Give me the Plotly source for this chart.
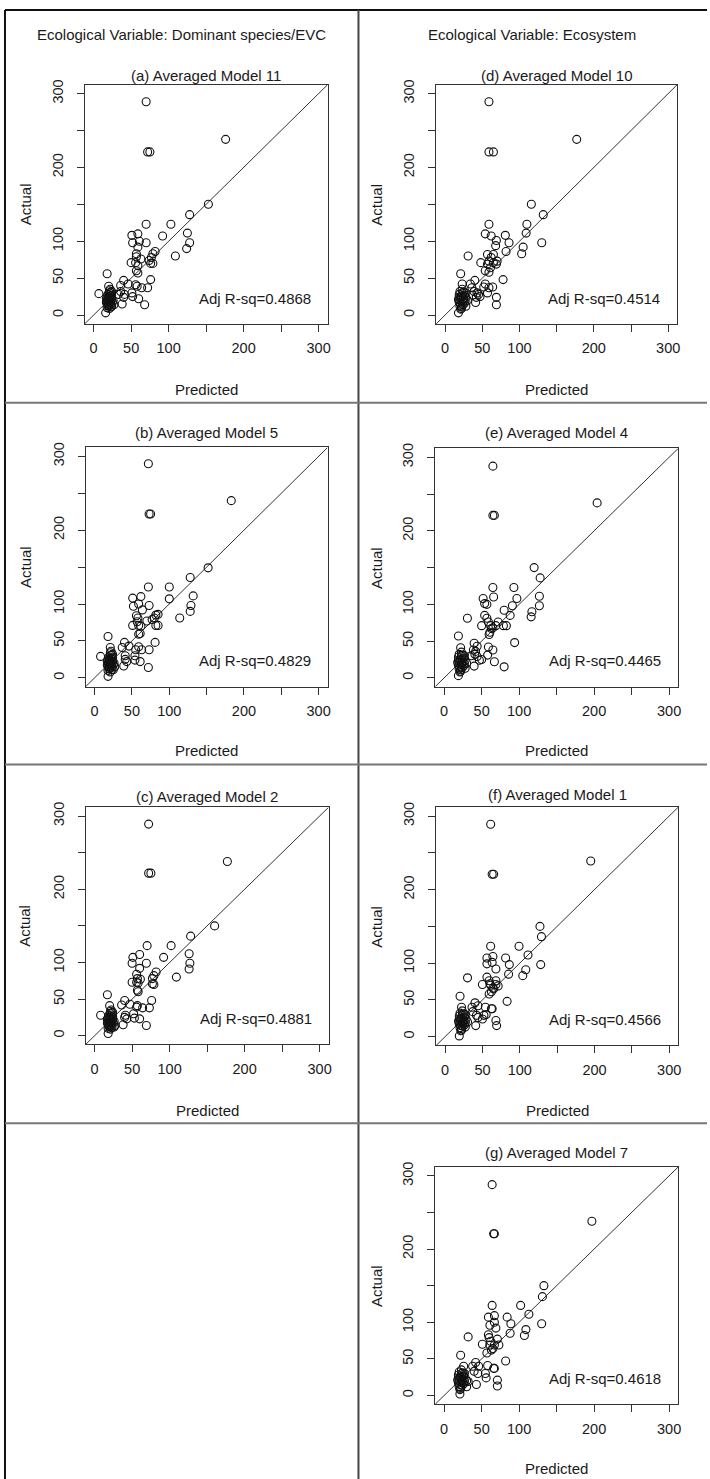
import plotly.graph_objects as go

# ---------------- DATA ----------------
HEADERS = ["Ecological Variable: Dominant species/EVC", "Ecological Variable: Ecosystem"]
TITLES = ["(a) Averaged Model 11", "(b) Averaged Model 5", "(c) Averaged Model 2",
          "(d) Averaged Model 10", "(e) Averaged Model 4", "(f) Averaged Model 1",
          "(g) Averaged Model 7"]
ADJ_RSQ = ["0.4868", "0.4829", "0.4881", "0.4514", "0.4465", "0.4566", "0.4618"]
TICK_VALS = [0, 50, 100, 150, 200, 250, 300]
TICK_TEXT = ["0", "50", "100", "", "200", "", "300"]
AXIS_RANGE = [-12, 312]

# (predicted, actual) pairs per panel
points_a = [(70, 289), (176, 238), (72, 221), (75, 221), (153, 150), (128, 136), (103, 123), (70, 123),
            (125, 111), (92, 107), (51, 108), (59, 110), (52, 98), (61, 100), (70, 98), (128, 98),
            (124, 90), (109, 80), (57, 83), (57, 79), (59, 92), (63, 76), (50, 71), (56, 71), (59, 67),
            (57, 60), (59, 57), (77, 78), (79, 83), (82, 86), (76, 70), (79, 70), (74, 74), (18, 56),
            (20, 39), (40, 47), (46, 42), (36, 40), (56, 41), (58, 39), (64, 37), (72, 37), (76, 48),
            (51, 30), (52, 25), (60, 22), (68, 14), (36, 32), (38, 15), (40, 24), (41, 28), (7, 29),
            (16, 3), (24, 12), (33, 28), (17, 22), (18, 18), (19, 15), (20, 25), (21, 20), (22, 17),
            (19, 28), (20, 12), (21, 30), (18, 10), (22, 23), (23, 19), (24, 27), (20, 16), (19, 21),
            (22, 14), (23, 31), (21, 33), (18, 25), (20, 19), (24, 22), (25, 17), (22, 26), (19, 13),
            (21, 9), (23, 11), (17, 17), (20, 23), (24, 32), (26, 20), (27, 14), (22, 35)]

points_b = [(72, 290), (183, 240), (73, 222), (75, 222), (152, 149), (128, 136), (100, 123), (72, 123),
            (132, 111), (100, 107), (51, 108), (62, 110), (52, 97), (59, 100), (73, 98), (129, 98),
            (128, 90), (114, 81), (64, 92), (56, 84), (58, 81), (57, 76), (82, 85), (85, 86), (80, 81),
            (51, 71), (59, 71), (62, 70), (59, 59), (61, 60), (70, 77), (82, 71), (85, 71), (77, 79),
            (18, 56), (21, 41), (40, 48), (37, 41), (46, 43), (59, 42), (55, 38), (63, 38), (73, 38),
            (81, 48), (54, 30), (54, 24), (61, 22), (72, 14), (39, 16), (41, 25), (41, 30), (43, 22),
            (8, 29), (18, 2), (25, 11), (17, 22), (18, 18), (19, 15), (20, 25), (21, 20), (22, 17),
            (19, 28), (20, 12), (21, 30), (18, 10), (22, 23), (23, 19), (24, 27), (20, 16), (19, 21),
            (22, 14), (23, 31), (21, 34), (18, 25), (20, 19), (24, 22), (25, 17), (22, 26), (19, 13),
            (21, 8), (23, 11), (17, 17), (20, 23), (24, 32), (26, 20), (27, 15), (22, 36)]

points_c = [(72, 289), (177, 238), (72, 222), (75, 222), (160, 150), (128, 136), (102, 123), (70, 123),
            (126, 112), (92, 107), (51, 107), (60, 111), (50, 99), (69, 99), (127, 99), (126, 91),
            (109, 80), (60, 92), (56, 84), (57, 78), (56, 73), (82, 87), (79, 82), (77, 78), (50, 73),
            (58, 72), (61, 77), (58, 60), (57, 62), (77, 71), (79, 70), (17, 56), (20, 41), (40, 48),
            (36, 42), (47, 43), (56, 39), (57, 41), (64, 38), (73, 38), (76, 48), (52, 30), (53, 24),
            (60, 23), (69, 14), (38, 15), (40, 25), (41, 28), (43, 23), (8, 28), (18, 3), (26, 12),
            (17, 22), (18, 18), (19, 15), (20, 25), (21, 20), (22, 17), (19, 28), (20, 12), (21, 30),
            (18, 10), (22, 23), (23, 19), (24, 27), (20, 16), (19, 21), (22, 14), (23, 31), (21, 33),
            (18, 25), (20, 19), (24, 22), (25, 17), (22, 26), (19, 13), (21, 9), (23, 11), (17, 17),
            (20, 23), (24, 32), (26, 20), (27, 14), (22, 35)]

points_d = [(59, 289), (177, 238), (59, 221), (65, 221), (116, 150), (132, 136), (110, 123), (59, 123),
            (109, 111), (81, 108), (54, 110), (62, 107), (86, 98), (130, 98), (69, 101), (68, 94),
            (105, 92), (103, 83), (82, 86), (31, 80), (48, 71), (57, 69), (59, 73), (62, 78), (65, 71),
            (69, 69), (70, 73), (54, 60), (59, 58), (61, 64), (65, 82), (57, 82), (21, 56), (23, 42),
            (40, 47), (34, 42), (36, 37), (45, 28), (39, 32), (54, 42), (59, 37), (64, 38), (78, 48),
            (57, 30), (69, 24), (69, 14), (41, 17), (42, 24), (28, 12), (18, 3), (47, 25), (52, 38),
            (43, 30), (37, 27), (20, 20), (22, 25), (24, 18), (19, 28), (21, 15), (23, 30), (25, 22),
            (20, 12), (22, 9), (26, 27), (24, 14), (19, 17), (21, 24), (23, 20), (25, 31), (27, 19),
            (20, 32), (22, 11), (18, 21), (26, 16), (24, 26), (21, 8), (28, 24), (30, 20), (27, 30),
            (23, 35), (19, 24)]

points_e = [(65, 288), (204, 238), (65, 221), (67, 221), (120, 150), (128, 136), (93, 123), (65, 123),
            (127, 111), (97, 108), (66, 110), (52, 108), (57, 100), (54, 101), (91, 98), (127, 98),
            (117, 90), (116, 83), (80, 92), (88, 85), (31, 81), (54, 85), (57, 81), (59, 76), (50, 71),
            (62, 71), (65, 68), (69, 71), (72, 76), (60, 59), (61, 62), (63, 67), (79, 71), (83, 71),
            (19, 57), (22, 41), (40, 47), (44, 43), (39, 38), (41, 32), (44, 29), (47, 24), (50, 25),
            (59, 42), (65, 38), (94, 48), (58, 31), (67, 22), (80, 15), (40, 16), (28, 13), (19, 3),
            (42, 36), (36, 30), (20, 20), (22, 25), (24, 18), (19, 28), (21, 15), (23, 30), (25, 22),
            (20, 12), (22, 9), (26, 27), (24, 14), (19, 17), (21, 24), (23, 20), (25, 31), (27, 19),
            (20, 32), (22, 11), (18, 21), (26, 16), (24, 26), (21, 8), (28, 24), (30, 20), (27, 30),
            (23, 35), (19, 24)]

points_f = [(61, 289), (195, 239), (63, 221), (65, 221), (127, 150), (129, 136), (99, 123), (61, 123),
            (111, 111), (81, 107), (56, 107), (64, 109), (56, 99), (63, 101), (86, 98), (128, 98),
            (108, 91), (104, 83), (68, 92), (85, 85), (30, 80), (56, 81), (59, 76), (60, 72), (50, 71),
            (61, 70), (65, 65), (68, 71), (71, 69), (59, 58), (62, 61), (64, 66), (68, 76), (20, 55),
            (22, 40), (40, 46), (36, 40), (44, 42), (37, 34), (42, 29), (44, 26), (52, 29), (54, 40),
            (62, 38), (63, 38), (83, 48), (55, 30), (68, 22), (69, 15), (41, 15), (27, 13), (19, 1),
            (50, 24), (20, 20), (22, 25), (24, 18), (19, 28), (21, 15), (23, 30), (25, 22), (20, 12),
            (22, 9), (26, 27), (24, 14), (19, 17), (21, 24), (23, 20), (25, 31), (27, 19), (20, 32),
            (22, 11), (18, 21), (26, 16), (24, 26), (21, 8), (28, 24), (30, 20), (27, 30), (23, 35),
            (19, 24)]

points_g = [(64, 288), (197, 238), (66, 221), (67, 221), (133, 150), (131, 135), (102, 123), (64, 123),
            (113, 111), (84, 107), (59, 107), (67, 109), (61, 96), (67, 100), (89, 98), (130, 98),
            (109, 90), (107, 82), (69, 92), (88, 85), (32, 80), (59, 83), (60, 79), (62, 74), (51, 70),
            (61, 69), (71, 77), (73, 69), (67, 69), (57, 58), (63, 62), (65, 64), (22, 55), (26, 40),
            (42, 45), (38, 40), (46, 40), (40, 33), (45, 30), (55, 30), (58, 41), (66, 37), (67, 37),
            (82, 47), (56, 24), (71, 21), (71, 13), (43, 15), (30, 12), (21, 2), (32, 19), (20, 20),
            (22, 25), (24, 18), (19, 28), (21, 15), (23, 30), (25, 22), (20, 12), (22, 9), (26, 27),
            (24, 14), (19, 17), (21, 24), (23, 20), (25, 31), (27, 19), (20, 32), (22, 11), (18, 21),
            (26, 16), (24, 26), (21, 8), (28, 24), (30, 20), (27, 30), (23, 35), (19, 24)]

PANEL_POINTS = [points_a, points_b, points_c, points_d, points_e, points_f, points_g]

# ---------------- LAYOUT (pixel geometry) ----------------
W, H = 710, 1479
# box: left, right, top, bottom (px); title_y, actual_x, predicted_y (px)
BOXES = [
    dict(box=(85, 329, 80, 320), title_y=70.5, actual_x=25, pred_y=385.5),
    dict(box=(86, 329, 444, 684), title_y=429, actual_x=25, pred_y=748.5),
    dict(box=(86, 330, 805, 1043), title_y=794, actual_x=25, pred_y=1109),
    dict(box=(438, 680, 80, 320), title_y=70.5, actual_x=378, pred_y=385.5),
    dict(box=(437, 681, 445, 684), title_y=429, actual_x=378, pred_y=748.5),
    dict(box=(438, 681, 805, 1044), title_y=792.5, actual_x=378, pred_y=1109),
    dict(box=(437, 681, 1166, 1404), title_y=1151, actual_x=378, pred_y=1468),
]

FONT = "Liberation Sans, Arial, sans-serif"
TXT = "#1a1a1a"
LINE = "#333333"
FS = 15
TICK_FS = 14.5


def px(x):
    return x / W


def py(y):
    return 1 - y / H


fig = go.Figure()
annotations = []
layout = dict(
    width=W, height=H, margin=dict(l=0, r=0, t=0, b=0),
    paper_bgcolor="white", plot_bgcolor="white", showlegend=False,
    font=dict(family=FONT, size=FS, color=TXT),
)

for i, (pts, cfg) in enumerate(zip(PANEL_POINTS, BOXES)):
    n = i + 1
    xa = "x" if n == 1 else f"x{n}"
    ya = "y" if n == 1 else f"y{n}"
    L, R, T, B = cfg["box"]
    xs = [p[0] for p in pts]
    ys = [p[1] for p in pts]
    fig.add_trace(go.Scatter(x=AXIS_RANGE, y=AXIS_RANGE, mode="lines",
                             line=dict(color=LINE, width=1), xaxis=xa, yaxis=ya,
                             hoverinfo="skip"))
    fig.add_trace(go.Scatter(x=xs, y=ys, mode="markers", xaxis=xa, yaxis=ya,
                             marker=dict(symbol="circle-open", size=8, color="#111111",
                                         line=dict(width=1.1, color="#111111"))))
    common = dict(range=AXIS_RANGE, tickvals=TICK_VALS, ticktext=TICK_TEXT,
                  ticks="outside", ticklen=7, tickwidth=1, tickcolor=LINE,
                  showline=True, mirror=True, linecolor=LINE, linewidth=1,
                  showgrid=False, zeroline=False, fixedrange=True,
                  tickfont=dict(family=FONT, size=TICK_FS, color=TXT))
    layout["xaxis" if n == 1 else f"xaxis{n}"] = dict(
        common, domain=[px(L), px(R)], anchor=ya, ticklabelstandoff=4)
    layout["yaxis" if n == 1 else f"yaxis{n}"] = dict(
        common, domain=[py(B), py(T)], anchor=xa, tickangle=-90, ticklabelstandoff=8)

    cx = (L + R) / 2
    annotations.append(dict(text=TITLES[i], x=px(cx), y=py(cfg["title_y"]), xref="paper", yref="paper",
                            showarrow=False, xanchor="center", yanchor="middle",
                            font=dict(size=FS, color=TXT, family=FONT)))
    annotations.append(dict(text="Actual", x=px(cfg["actual_x"]), y=py((T + B) / 2), xref="paper",
                            yref="paper", showarrow=False, textangle=-90, xanchor="center",
                            yanchor="middle", font=dict(size=FS, color=TXT, family=FONT)))
    annotations.append(dict(text="Predicted", x=px(cx), y=py(cfg["pred_y"]), xref="paper", yref="paper",
                            showarrow=False, xanchor="center", yanchor="middle",
                            font=dict(size=FS, color=TXT, family=FONT)))
    annotations.append(dict(text="Adj R-sq=" + ADJ_RSQ[i], x=292, y=23, xref=xa, yref=ya,
                            showarrow=False, xanchor="right", yanchor="middle",
                            font=dict(size=FS, color=TXT, family=FONT)))

annotations.append(dict(text=HEADERS[0], x=px(182), y=py(30), xref="paper", yref="paper",
                        showarrow=False, xanchor="center", yanchor="middle",
                        font=dict(size=FS, color=TXT, family=FONT)))
annotations.append(dict(text=HEADERS[1], x=px(534), y=py(30), xref="paper", yref="paper",
                        showarrow=False, xanchor="center", yanchor="middle",
                        font=dict(size=FS, color=TXT, family=FONT)))

# Cell borders
shapes = []
def pline(x0, y0, x1, y1, color, width):
    shapes.append(dict(type="line", xref="paper", yref="paper", x0=px(x0), y0=py(y0),
                       x1=px(x1), y1=py(y1), line=dict(color=color, width=width)))

pline(5, 5, 5, H, "#111111", 2)        # outer left
pline(5, 5, W, 5, "#111111", 2)        # outer top
pline(360, 5, 360, H, "#444444", 2)    # column divider
for yy in (399, 762, 1122):
    pline(5, yy, W, yy, "#777777", 2)  # row dividers

layout["annotations"] = annotations
layout["shapes"] = shapes
fig.update_layout(**layout)
fig.write_html("out.html", config={"displayModeBar": False},
               post_script="document.body.style.margin='0';document.body.style.overflow='hidden';")
